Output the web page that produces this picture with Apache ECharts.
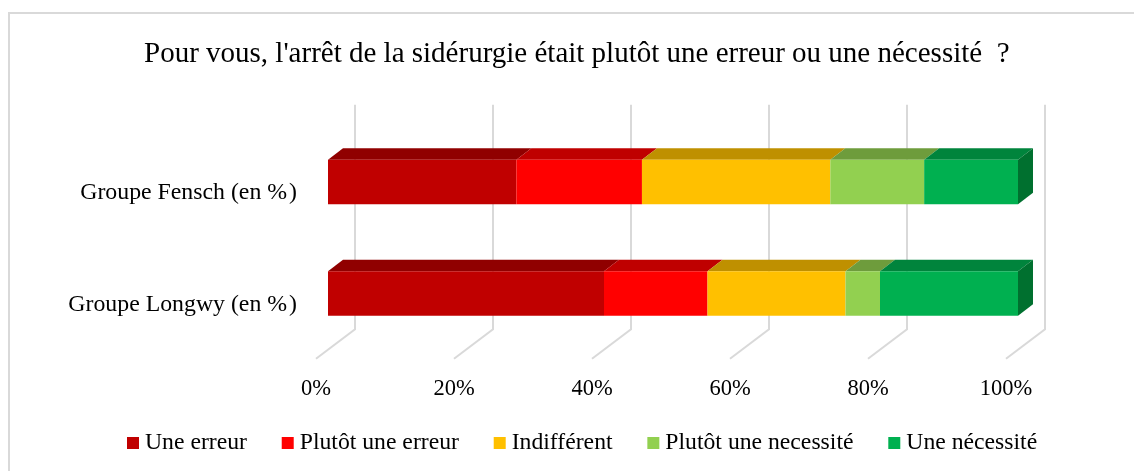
<!DOCTYPE html>
<html><head><meta charset="utf-8">
<style>html,body{margin:0;padding:0;background:#fff}#c{width:1134px;height:471px}</style>
<script src="https://cdn.jsdelivr.net/npm/echarts@6/dist/echarts.min.js"></script>
</head><body><div id="c"></div>
<script>
const titleText = "Pour vous, l'arrêt de la sidérurgie était plutôt une erreur ou une nécessité\u00a0 ?";
const categories = ["Groupe Longwy (en %\u200a)", "Groupe Fensch (en %\u200a)"];
const ticks = [0, 20, 40, 60, 80, 100];
const seriesNames = ["Une erreur", "Plutôt une erreur", "Indifférent", "Plutôt une necessité", "Une nécessité"];
const uneErreur = [40, 27.3];
const plutotErreur = [15, 18.2];
const indifferent = [20, 27.3];
const plutotNecessite = [5, 13.6];
const uneNecessite = [20, 13.6];
const colors = ["#C00000", "#FF0000", "#FFC000", "#92D050", "#00B050"];
const topColors = ["#900000", "#BF0000", "#BF9000", "#6E9C3C", "#00843C"];
const sideColor = "#00702F";
const FONT = "'Liberation Serif','Times New Roman',serif";

const allValues = [uneErreur, plutotErreur, indifferent, plutotNecessite, uneNecessite];
const DX = 15, DY = 11.5, BAR_H = 44.6, FRONT = 12, UP = 11;

function barSeries(values, idx) {
  let data = values.map((v, c) => {
    let start = 0;
    for (let k = 0; k < idx; k++) start += allValues[k][c];
    return [start, start + v, c];
  });
  return {
    name: seriesNames[idx], type: 'custom', z: 5,
    itemStyle: { color: colors[idx] },
    encode: { x: [0, 1], y: 2 },
    data,
    renderItem(params, api) {
      const a = api.coord([api.value(0), api.value(2)]);
      const b = api.coord([api.value(1), api.value(2)]);
      const x0 = a[0] + FRONT, x1 = b[0] + FRONT, yT = a[1] - UP - BAR_H / 2, yB = a[1] - UP + BAR_H / 2;
      const children = [
        { type: 'polygon', shape: { points: [[x0, yT], [x0 + DX, yT - DY], [x1 + DX, yT - DY], [x1, yT]] }, style: { fill: topColors[idx] } },
        { type: 'rect', shape: { x: x0, y: yT, width: x1 - x0, height: yB - yT }, style: { fill: colors[idx] } }
      ];
      if (idx === allValues.length - 1) {
        children.push({ type: 'polygon', shape: { points: [[x1, yT], [x1 + DX, yT - DY], [x1 + DX, yB - DY], [x1, yB]] }, style: { fill: sideColor } });
      }
      return { type: 'group', children };
    }
  };
}

const wallSeries = {
  type: 'custom', silent: true, z: 1, legendHoverLink: false,
  encode: { x: 0 },
  data: ticks.map(t => [t]),
  renderItem(params, api) {
    const x = api.coord([api.value(0), 0])[0];
    const g = params.coordSys;
    const yF = g.y + g.height - UP + 9.5;
    return { type: 'polyline', shape: { points: [[x, yF], [x + 39, yF - 29.5], [x + 39, g.y - UP - 21.5]] },
      style: { fill: 'none', stroke: '#D9D9D9', lineWidth: 2 } };
  }
};

const chart = echarts.init(document.getElementById('c'), null, { renderer: 'canvas' });
chart.setOption({
  animation: false,
  backgroundColor: '#fff',
  textStyle: { fontFamily: FONT },
  title: { text: titleText, left: 139, top: 35, textStyle: { fontFamily: FONT, fontSize: 29, fontWeight: 'normal', color: '#000' } },
  legend: {
    data: seriesNames, left: 122, top: 426, icon: 'rect', itemWidth: 12, itemHeight: 12, itemGap: 34.8,
    textStyle: { fontFamily: FONT, fontSize: 23.7, color: '#000', padding: [0, 0, 0, 1] }
  },
  grid: { left: 316, right: 128, top: 137.25, bottom: 110.75, containLabel: false },
  xAxis: {
    type: 'value', min: 0, max: 100, interval: 20,
    axisLine: { show: false }, axisTick: { show: false }, splitLine: { show: false },
    axisLabel: { formatter: '{value}%', margin: 17, fontFamily: FONT, fontSize: 22.5, color: '#000' }
  },
  yAxis: {
    type: 'category', data: categories,
    axisLine: { show: false }, axisTick: { show: false }, splitLine: { show: false },
    axisLabel: { margin: 19, fontFamily: FONT, fontSize: 23.8, color: '#000' }
  },
  graphic: [{ type: 'rect', silent: true, z: -1, shape: { x: 9, y: 13, width: 1200, height: 500 }, style: { fill: 'none', stroke: '#D9D9D9', lineWidth: 2 } }],
  series: [wallSeries].concat(allValues.map(barSeries))
});
</script></body></html>
